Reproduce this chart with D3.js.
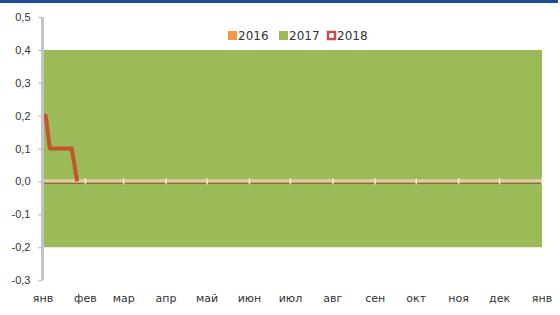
<!DOCTYPE html>
<html>
<head>
<meta charset="utf-8">
<script src="https://cdn.jsdelivr.net/npm/d3@7"></script>
<style>
  body { margin: 0; background: #fff; }
  svg { display: block; font-family: "DejaVu Sans", sans-serif; }
</style>
</head>
<body>
<div id="chart"></div>
<script>
// Data
const monthLabels = ['янв', 'фев', 'мар', 'апр', 'май', 'июн', 'июл', 'авг', 'сен', 'окт', 'ноя', 'дек', 'янв'];
const yTicks = [-0.3, -0.2, -0.1, 0.0, 0.1, 0.2, 0.3, 0.4, 0.5];

// 2016: flat line at zero for the whole year
const dates2016 = ['2018-01-01', '2019-01-01'];
const values2016 = [0, 0];

// 2017: corridor band
const dates2017 = ['2018-01-01', '2019-01-01'];
const low2017 = [-0.2, -0.2];
const high2017 = [0.4, 0.4];

// 2018: actual line
const dates2018 = ['2018-01-01', '2018-01-03', '2018-01-06', '2018-01-22', '2018-01-26'];
const values2018 = [0.2, 0.2, 0.1, 0.1, 0.0];

const width = 560, height = 315;
const margin = { top: 17, right: 18, bottom: 35, left: 43 };

const parse = d3.timeParse('%Y-%m-%d');

const svg = d3.select('#chart').append('svg')
  .attr('width', width)
  .attr('height', height);

// top blue stripe
svg.append('rect')
  .attr('x', 0).attr('y', 0)
  .attr('width', 558).attr('height', 3)
  .attr('fill', '#1d4c9a');

const x = d3.scaleTime()
  .domain([parse('2018-01-01'), parse('2019-01-01')])
  .range([margin.left, width - margin.right]);

const y = d3.scaleLinear()
  .domain([-0.3, 0.5])
  .range([height - margin.bottom, margin.top]);

// 2017 band
const band = dates2017.map((d, i) => ({ date: parse(d), lo: low2017[i], hi: high2017[i] }));
svg.append('path')
  .datum(band)
  .attr('fill', '#9bbb59')
  .attr('d', d3.area()
    .x(d => x(d.date))
    .y0(d => y(d.lo))
    .y1(d => y(d.hi)));

// x axis line (dark thin) just under zero
const y0 = y(0);
svg.append('line')
  .attr('x1', x.range()[0]).attr('x2', x.range()[1])
  .attr('y1', y0 + 1.8).attr('y2', y0 + 1.8)
  .attr('stroke', '#7a5a3a')
  .attr('stroke-width', 1.2);

// 2016 line
const line = d3.line().x(d => x(d.date)).y(d => y(d.v));
const s2016 = dates2016.map((d, i) => ({ date: parse(d), v: values2016[i] }));
svg.append('path')
  .datum(s2016)
  .attr('fill', 'none')
  .attr('stroke', '#e6cba0')
  .attr('stroke-width', 3.2)
  .attr('transform', 'translate(0,-0.6)')
  .attr('d', line);

// month ticks across the zero line
const monthTicks = d3.timeMonth.range(parse('2018-01-01'), parse('2019-01-02'));
svg.append('g')
  .selectAll('line')
  .data(monthTicks)
  .join('line')
  .attr('x1', d => x(d)).attr('x2', d => x(d))
  .attr('y1', y0 - 3).attr('y2', y0 + 3)
  .attr('stroke', '#f2eadb')
  .attr('stroke-width', 1.5);

// 2018 line
const s2018 = dates2018.map((d, i) => ({ date: parse(d), v: values2018[i] }));
svg.append('path')
  .datum(s2018)
  .attr('fill', 'none')
  .attr('stroke', '#c4532f')
  .attr('stroke-width', 4)
  .attr('stroke-linejoin', 'round')
  .attr('d', line);

// y axis
const yAxis = svg.append('g')
  .attr('transform', `translate(${margin.left - 0.5},0)`)
  .call(d3.axisLeft(y)
    .tickValues(yTicks)
    .tickSize(4)
    .tickPadding(8)
    .tickFormat(d => d3.format('.1f')(d).replace('.', ',').replace('−', '-')));

yAxis.select('.domain')
  .attr('stroke', '#c3c3cb')
  .attr('stroke-width', 3)
  .attr('d', `M0,${y(0.5)}V${y(-0.3)}`);
yAxis.selectAll('.tick line').attr('stroke', '#c3c3cb').attr('stroke-width', 1.5);
yAxis.selectAll('.tick text')
  .attr('fill', '#333')
  .style('font-size', '11px');

// x labels
svg.append('g')
  .selectAll('text')
  .data(monthTicks)
  .join('text')
  .attr('x', d => x(d))
  .attr('y', 302)
  .attr('text-anchor', 'middle')
  .attr('fill', '#333')
  .style('font-size', '11px')
  .text((d, i) => monthLabels[i]);

// legend
const legendItems = [
  { name: '2016', color: '#f79646', hollow: false, x: 228 },
  { name: '2017', color: '#9bbb59', hollow: false, x: 279 },
  { name: '2018', color: '#c0504d', hollow: true, x: 327 }
];
const legend = svg.append('g');
legendItems.forEach(item => {
  const g = legend.append('g').attr('transform', `translate(${item.x},31)`);
  if (item.hollow) {
    g.append('rect')
      .attr('x', 1).attr('y', 1).attr('width', 7).attr('height', 7)
      .attr('fill', '#fff')
      .attr('stroke', item.color)
      .attr('stroke-width', 2.5);
  } else {
    g.append('rect')
      .attr('width', 9).attr('height', 9)
      .attr('fill', item.color);
  }
  g.append('text')
    .attr('x', 10)
    .attr('y', 9)
    .attr('fill', '#333')
    .style('font-size', '12px')
    .text(item.name);
});
</script>
</body>
</html>
